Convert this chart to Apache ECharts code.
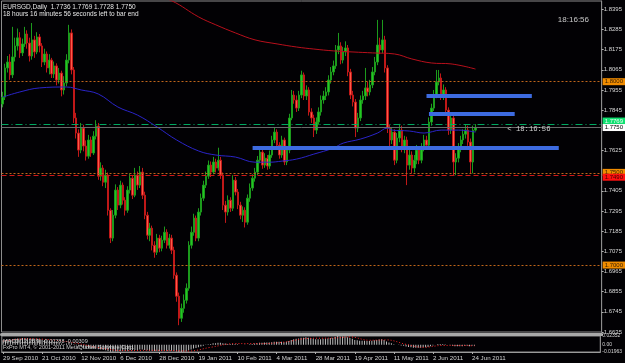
<!DOCTYPE html>
<html><head><meta charset="utf-8">
<script src="https://cdn.jsdelivr.net/npm/echarts@6/dist/echarts.min.js"></script>
<style>html,body{margin:0;padding:0;background:#000;}#c{width:625px;height:363px;}</style>
</head><body><div id="c"></div>
<script>
// ---- DATA ----
const tickLabels = ['29 Sep 2010','21 Oct 2010','12 Nov 2010','6 Dec 2010','28 Dec 2010','19 Jan 2011','10 Feb 2011','4 Mar 2011','28 Mar 2011','19 Apr 2011','11 May 2011','2 Jun 2011','24 Jun 2011'];
const priceTicks = [1.8395,1.8285,1.8175,1.8065,1.7955,1.7845,1.7625,1.7405,1.7295,1.7185,1.7075,1.6965,1.6855,1.6745,1.6635];
const opens = [
1.7878,1.7916,1.8075,1.8107,1.8037,1.8135,1.8195,1.8239,1.8157,1.8206,
1.8260,1.8211,1.8140,1.8228,1.8162,1.8244,1.8195,1.8107,1.8151,1.8075,
1.8118,1.8042,1.8086,1.8009,1.8047,1.7955,1.7993,1.8118,1.8266,1.8064,
1.7802,1.7720,1.7627,1.7747,1.7649,1.7594,1.7682,1.7611,1.7703,1.7758,
1.7485,1.7529,1.7452,1.7491,1.7299,1.7147,1.7272,1.7409,1.7327,1.7436,
1.7354,1.7299,1.7409,1.7474,1.7381,1.7491,1.7436,1.7507,1.7381,1.7272,
1.7163,1.7201,1.7108,1.7070,1.7147,1.7092,1.7136,1.7179,1.7108,1.7147,
1.7081,1.6945,1.6830,1.6710,1.6764,1.6808,1.6874,1.7108,1.7179,1.7256,
1.7147,1.7289,1.7365,1.7436,1.7485,1.7545,1.7507,1.7562,1.7529,1.7572,
1.7491,1.7327,1.7289,1.7354,1.7310,1.7463,1.7398,1.7327,1.7272,1.7299,
1.7234,1.7365,1.7420,1.7474,1.7507,1.7572,1.7616,1.7545,1.7583,1.7540,
1.7600,1.7682,1.7725,1.7654,1.7600,1.7682,1.7562,1.7627,1.7802,1.7927,
1.7900,1.7856,1.7927,1.8037,1.7922,1.7955,1.7835,1.7802,1.7736,1.7780,
1.7835,1.7900,1.7922,1.7944,1.8009,1.8053,1.8086,1.8173,1.8195,1.8118,
1.8162,1.8184,1.8053,1.7927,1.7889,1.7747,1.7802,1.7900,1.7922,1.7966,
1.7944,1.7982,1.8053,1.8107,1.8200,1.8173,1.8228,1.8075,1.7747,1.7682,
1.7725,1.7572,1.7693,1.7736,1.7638,1.7682,1.7545,1.7600,1.7529,1.7572,
1.7627,1.7572,1.7638,1.7682,1.7654,1.7780,1.7856,1.7927,1.7998,1.8020,
1.7922,1.7955,1.7845,1.7736,1.7802,1.7562,1.7583,1.7638,1.7682,1.7714,
1.7736,1.7671,1.7562,1.7736];
const closes = [
1.7916,1.8075,1.8107,1.8037,1.8135,1.8195,1.8239,1.8157,1.8206,1.8260,
1.8211,1.8140,1.8228,1.8162,1.8244,1.8195,1.8107,1.8151,1.8075,1.8118,
1.8042,1.8086,1.8009,1.8047,1.7955,1.7993,1.8118,1.8266,1.8064,1.7802,
1.7720,1.7627,1.7747,1.7649,1.7594,1.7682,1.7611,1.7703,1.7758,1.7485,
1.7529,1.7452,1.7491,1.7299,1.7147,1.7272,1.7409,1.7327,1.7436,1.7354,
1.7299,1.7409,1.7474,1.7381,1.7491,1.7436,1.7507,1.7381,1.7272,1.7163,
1.7201,1.7108,1.7070,1.7147,1.7092,1.7136,1.7179,1.7108,1.7147,1.7081,
1.6945,1.6830,1.6710,1.6764,1.6808,1.6874,1.7108,1.7179,1.7256,1.7147,
1.7289,1.7365,1.7436,1.7485,1.7545,1.7507,1.7562,1.7529,1.7572,1.7491,
1.7327,1.7289,1.7354,1.7310,1.7463,1.7398,1.7327,1.7272,1.7299,1.7234,
1.7365,1.7420,1.7474,1.7507,1.7572,1.7616,1.7545,1.7583,1.7540,1.7600,
1.7682,1.7725,1.7654,1.7600,1.7682,1.7562,1.7627,1.7802,1.7927,1.7900,
1.7856,1.7927,1.8037,1.7922,1.7955,1.7835,1.7802,1.7736,1.7780,1.7835,
1.7900,1.7922,1.7944,1.8009,1.8053,1.8086,1.8173,1.8195,1.8118,1.8162,
1.8184,1.8053,1.7927,1.7889,1.7747,1.7802,1.7900,1.7922,1.7966,1.7944,
1.7982,1.8053,1.8107,1.8200,1.8173,1.8228,1.8075,1.7747,1.7682,1.7725,
1.7572,1.7693,1.7736,1.7638,1.7682,1.7545,1.7600,1.7529,1.7572,1.7627,
1.7572,1.7638,1.7682,1.7654,1.7780,1.7856,1.7927,1.7998,1.8020,1.7922,
1.7955,1.7845,1.7736,1.7802,1.7562,1.7583,1.7638,1.7682,1.7714,1.7736,
1.7671,1.7562,1.7736,1.7750];
const highs = [
1.7945,1.8098,1.8140,1.8150,1.8299,1.8240,1.8290,1.8270,1.8235,1.8299,
1.8280,1.8240,1.8320,1.8250,1.8270,1.8260,1.8210,1.8180,1.8165,1.8150,
1.8130,1.8110,1.8100,1.8075,1.8060,1.8030,1.8150,1.8310,1.8285,1.8080,
1.7830,1.7740,1.7775,1.7765,1.7680,1.7710,1.7700,1.7730,1.7790,1.7775,
1.7560,1.7545,1.7520,1.7505,1.7310,1.7300,1.7440,1.7425,1.7460,1.7450,
1.7370,1.7430,1.7500,1.7490,1.7530,1.7510,1.7540,1.7530,1.7400,1.7290,
1.7230,1.7215,1.7130,1.7170,1.7165,1.7160,1.7210,1.7195,1.7170,1.7165,
1.7100,1.6960,1.6850,1.6790,1.6840,1.6900,1.7130,1.7210,1.7280,1.7270,
1.7310,1.7390,1.7460,1.7510,1.7570,1.7565,1.7590,1.7580,1.7640,1.7590,
1.7505,1.7350,1.7380,1.7370,1.7490,1.7480,1.7415,1.7345,1.7320,1.7315,
1.7385,1.7445,1.7495,1.7530,1.7595,1.7640,1.7630,1.7610,1.7600,1.7625,
1.7705,1.7750,1.7740,1.7670,1.7705,1.7695,1.7650,1.7825,1.7955,1.7950,
1.7925,1.7950,1.8060,1.8050,1.7980,1.7970,1.7855,1.7820,1.7805,1.7860,
1.7925,1.7950,1.7970,1.8035,1.8080,1.8115,1.8200,1.8266,1.8215,1.8190,
1.8220,1.8200,1.8070,1.7950,1.7905,1.7830,1.7925,1.7950,1.8075,1.8000,
1.8010,1.8080,1.8135,1.8337,1.8240,1.8337,1.8250,1.8090,1.7765,1.7750,
1.7740,1.7720,1.7770,1.7760,1.7705,1.7700,1.7630,1.7620,1.7600,1.7655,
1.7645,1.7665,1.7710,1.7705,1.7805,1.7880,1.7955,1.8064,1.8064,1.8045,
1.7985,1.7970,1.7860,1.7825,1.7820,1.7610,1.7665,1.7705,1.7740,1.7765,
1.7760,1.7690,1.7760,1.7769];
const lows = [
1.7860,1.7900,1.8050,1.8010,1.8020,1.8110,1.8170,1.8130,1.8140,1.8190,
1.8180,1.8110,1.8120,1.8130,1.8150,1.8160,1.8080,1.8090,1.8050,1.8040,
1.8020,1.8020,1.7980,1.7990,1.7920,1.7930,1.7975,1.8100,1.8040,1.7775,
1.7690,1.7590,1.7610,1.7620,1.7570,1.7580,1.7590,1.7600,1.7685,1.7465,
1.7460,1.7430,1.7420,1.7270,1.7120,1.7130,1.7255,1.7300,1.7310,1.7330,
1.7270,1.7285,1.7390,1.7360,1.7370,1.7410,1.7420,1.7360,1.7250,1.7140,
1.7130,1.7080,1.7040,1.7055,1.7070,1.7075,1.7120,1.7090,1.7090,1.7060,
1.6925,1.6800,1.6672,1.6690,1.6740,1.6790,1.6860,1.7090,1.7160,1.7130,
1.7130,1.7270,1.7350,1.7420,1.7470,1.7480,1.7495,1.7505,1.7515,1.7470,
1.7300,1.7230,1.7270,1.7290,1.7295,1.7380,1.7305,1.7250,1.7235,1.7205,
1.7220,1.7345,1.7405,1.7455,1.7490,1.7555,1.7525,1.7530,1.7520,1.7525,
1.7585,1.7665,1.7635,1.7580,1.7585,1.7545,1.7545,1.7610,1.7790,1.7880,
1.7835,1.7840,1.7910,1.7900,1.7900,1.7815,1.7775,1.7698,1.7715,1.7765,
1.7815,1.7880,1.7900,1.7925,1.7990,1.8035,1.8070,1.8150,1.8095,1.8100,
1.8140,1.8030,1.7905,1.7865,1.7698,1.7725,1.7785,1.7880,1.7900,1.7920,
1.7925,1.7965,1.8035,1.8090,1.8150,1.8155,1.8050,1.7720,1.7640,1.7660,
1.7545,1.7555,1.7670,1.7615,1.7610,1.7436,1.7520,1.7500,1.7505,1.7550,
1.7550,1.7555,1.7620,1.7630,1.7640,1.7760,1.7840,1.7910,1.7980,1.7900,
1.7900,1.7825,1.7710,1.7715,1.7490,1.7490,1.7560,1.7615,1.7660,1.7690,
1.7650,1.7500,1.7500,1.7728];
// moving averages read at sample bars: [barIndex, value]
const maBlue = [[0,1.7916],[7,1.7944],[15,1.7966],[26,1.7971],[32,1.7955],[39,1.7933],[47,1.7862],[55,1.7818],[63,1.7753],[71,1.7682],[80,1.7622],[87,1.7600],[95,1.7589],[103,1.7561],[109,1.7561],[114,1.7567],[120,1.7578],[127,1.7605],[135,1.7638],[139,1.7665],[146,1.7687],[153,1.7720],[157,1.7747],[159,1.7736],[166,1.7731],[172,1.7720],[179,1.7736],[186,1.7736],[193,1.7725]];
const maRed = [[60,1.8479],[69,1.8441],[80,1.8353],[87,1.8310],[95,1.8266],[103,1.8228],[112,1.8206],[120,1.8189],[127,1.8178],[135,1.8168],[143,1.8162],[151,1.8157],[160,1.8151],[167,1.8124],[175,1.8102],[183,1.8097],[193,1.8069]];
// user-drawn levels: [fromBar, toBar, price]
const trendLevels = [[173,216,1.7923],[174,209,1.7827],[102,227,1.7640]];
// horizontal price lines
const roundLevels = [1.8000,1.7500,1.7000];
const bidPrice = 1.7750, askPrice = 1.7769, lowLevel = 1.7490;
// MACD(12,26,9)
const macd = [
0.012,0.013,0.014,0.014,0.015,0.016,0.017,0.017,0.018,0.018,
0.018,0.017,0.017,0.016,0.016,0.015,0.014,0.013,0.012,0.011,
0.009,0.008,0.007,0.005,0.003,0.002,0.003,0.005,0.004,0.001,
-0.002,-0.005,-0.006,-0.008,-0.010,-0.010,-0.011,-0.011,-0.010,-0.012,
-0.013,-0.014,-0.015,-0.017,-0.019,-0.019,-0.018,-0.018,-0.017,-0.017,
-0.017,-0.016,-0.015,-0.015,-0.014,-0.014,-0.013,-0.013,-0.014,-0.015,
-0.016,-0.017,-0.017,-0.017,-0.017,-0.017,-0.016,-0.016,-0.016,-0.016,
-0.017,-0.018,-0.0196,-0.0196,-0.019,-0.018,-0.015,-0.013,-0.010,-0.009,
-0.007,-0.005,-0.003,-0.001,0.001,0.002,0.004,0.004,0.005,0.005,
0.004,0.003,0.002,0.002,0.002,0.002,0.001,0.000,0.000,-0.001,
0.000,0.001,0.002,0.003,0.004,0.005,0.005,0.006,0.006,0.006,
0.007,0.008,0.008,0.008,0.008,0.007,0.008,0.010,0.013,0.015,
0.016,0.017,0.019,0.019,0.020,0.019,0.018,0.016,0.015,0.015,
0.015,0.016,0.016,0.017,0.018,0.019,0.021,0.0235,0.022,0.022,
0.022,0.020,0.018,0.016,0.013,0.012,0.011,0.011,0.011,0.010,
0.010,0.011,0.012,0.013,0.014,0.015,0.013,0.009,0.006,0.004,
0.001,0.000,-0.001,-0.002,-0.003,-0.005,-0.006,-0.007,-0.008,-0.008,
-0.008,-0.008,-0.007,-0.007,-0.006,-0.004,-0.002,0.000,0.002,0.002,
0.002,0.001,0.000,-0.001,-0.003,-0.004,-0.004,-0.004,-0.004,-0.003,
-0.003,-0.004,-0.003,-0.00288];
const macdSignal = [[0,0.010],[10,0.016],[20,0.013],[30,0.004],[40,-0.009],[50,-0.016],[60,-0.015],[70,-0.016],[76,-0.017],[85,-0.007],[95,0.003],[105,0.003],[115,0.007],[125,0.017],[135,0.018],[142,0.021],[150,0.012],[157,0.013],[165,0.001],[172,-0.007],[180,-0.002],[187,-0.002],[193,-0.00309]];
const macdTicks = [0.02352, 0, -0.01963];

// ---- BUILD ----
const TOTAL = 245;
const cats = Array.from({length: TOTAL}, (_, i) => 'b' + i);
const showTick = (i) => i % 16 === 0 && (i / 16) < tickLabels.length;
const ohlc = opens.map((o, i) => [o, closes[i], lows[i], highs[i]]);
const FONT = 'Liberation Sans';

const chart = echarts.init(document.getElementById('c'), null, {renderer: 'canvas'});
const boxLabel = (bg, fg, dy) => ({show: true, position: 'end', distance: 1, formatter: p => Number(p.value).toFixed(4),
  backgroundColor: bg, color: fg, fontSize: 6, fontFamily: FONT, padding: [1, 2, 0, 2], offset: [0, dy || 0]});

const markData = [];
roundLevels.forEach(v => markData.push({yAxis: v, lineStyle: {color: '#c0661a', type: [2, 2], width: 1}, label: boxLabel('#f08c00', '#3a2000', v === 1.75 ? -1 : 0)}));
markData.push({yAxis: lowLevel, lineStyle: {color: '#d01818', type: [5, 3], width: 1}, label: boxLabel('#ff1010', '#400000', 2)});
markData.push({yAxis: askPrice, lineStyle: {color: '#00a860', type: [7, 3, 1, 3], width: 1}, label: boxLabel('#10e070', '#e8fff0', -3)});
markData.push({yAxis: bidPrice, lineStyle: {color: '#6a6a6a', type: 'solid', width: 1}, label: boxLabel('#ffffff', '#000000', 0)});
trendLevels.forEach(t => markData.push([{coord: [t[0], t[2]], lineStyle: {color: '#3d6be0', width: 4, type: 'solid'}}, {coord: [t[1], t[2]]}]));

const tStyle = (size, color) => ({color: color, fontSize: size, fontWeight: 'normal', fontFamily: FONT, lineHeight: size + 1});
chart.setOption({
  backgroundColor: '#020104',
  animation: false,
  title: [
    {text: 'EURSGD,Daily  1.7736 1.7769 1.7728 1.7750', left: 3, top: 3, padding: 0, textStyle: tStyle(6.5, '#e6e6e6'),
     subtext: '18 hours 16 minutes 56 seconds left to bar end', itemGap: 0, subtextStyle: tStyle(6.5, '#e6e6e6')},
    {text: '18:16:56', right: 36, top: 15, padding: 0, textStyle: tStyle(8, '#c8c8c8')},
    {text: 'MACD(12,26,9) -0.00288 -0.00309', left: 3, top: 338, padding: 0, textStyle: tStyle(5.5, '#d0d0d0'),
     subtext: 'FxPro MT4, \u00a9 2001-2011 MetaQuotes Software Corp.', itemGap: 0, subtextStyle: tStyle(5.5, '#d0d0d0')}
  ],
  grid: [
    {left: 1.5, right: 23, top: 1, height: 331, show: true, borderColor: '#8c8c8c', borderWidth: 1, backgroundColor: 'transparent'},
    {left: 1.5, right: 23, top: 336, height: 16, show: true, borderColor: '#8c8c8c', borderWidth: 1, backgroundColor: 'transparent'}
  ],
  xAxis: [
    {type: 'category', gridIndex: 0, data: cats, boundaryGap: true,
     axisLine: {show: true, onZero: false, lineStyle: {color: '#a8a8a8', width: 3}}, offset: 2,
     axisTick: {show: false}, axisLabel: {show: false}, splitLine: {show: false}},
    {type: 'category', gridIndex: 1, data: cats, boundaryGap: true,
     axisLine: {show: true, onZero: false, lineStyle: {color: '#9a9a9a', width: 1}},
     axisTick: {show: true, alignWithLabel: true, interval: (i) => showTick(i), length: 2, lineStyle: {color: '#b0b0b0'}},
     axisLabel: {show: true, interval: (i) => showTick(i), formatter: (v, i) => tickLabels[i / 16], align: 'left', margin: 3,
       color: '#d2d2d2', fontSize: 6.2, fontFamily: FONT}, splitLine: {show: false}}
  ],
  yAxis: [
    {type: 'value', gridIndex: 0, position: 'right', min: 1.6635, max: 1.8440, scale: true,
     axisLine: {show: true, lineStyle: {color: '#8c8c8c'}},
     axisTick: {show: true, length: 2, customValues: priceTicks, lineStyle: {color: '#b0b0b0'}},
     axisLabel: {show: true, customValues: priceTicks, formatter: v => v.toFixed(4), margin: 2, color: '#d8d8d8', fontSize: 6, fontFamily: FONT},
     splitLine: {show: false}},
    {type: 'value', gridIndex: 1, position: 'right', min: -0.01963, max: 0.02352,
     axisLine: {show: true, lineStyle: {color: '#8c8c8c'}},
     axisTick: {show: false},
     axisLabel: {show: true, customValues: macdTicks, formatter: v => v === 0 ? '0.00' : v.toFixed(5), margin: 2, color: '#d8d8d8', fontSize: 5, fontFamily: FONT},
     splitLine: {show: false}}
  ],
  series: [
    {type: 'candlestick', name: 'EURSGD', xAxisIndex: 0, yAxisIndex: 0, data: ohlc, barWidth: 2,
     itemStyle: {color: '#22c822', color0: '#ff5a48', borderColor: '#1c9a1c', borderColor0: '#c01818', borderWidth: 1},
     markLine: {silent: true, symbol: 'none', precision: 4, animation: false, data: markData},
     markPoint: {silent: true, symbol: 'circle', symbolSize: 0, data: [{coord: [206, bidPrice], label: {show: true, position: 'right', distance: 0, formatter: '< 18:16:56', color: '#cfcfcf', fontSize: 7.2, fontFamily: 'Liberation Mono', offset: [0, 1.5]}}]}},
    {type: 'line', name: 'MA slow', data: maRed, smooth: 0.4, symbol: 'none', clip: true, lineStyle: {color: '#b8101c', width: 1}},
    {type: 'line', name: 'MA fast', data: maBlue, smooth: 0.4, symbol: 'none', clip: true, lineStyle: {color: '#2a24c8', width: 1}},
    {type: 'bar', name: 'MACD', xAxisIndex: 1, yAxisIndex: 1, data: macd, barWidth: 1, itemStyle: {color: '#bdbdbd'}},
    {type: 'line', name: 'Signal', xAxisIndex: 1, yAxisIndex: 1, data: macdSignal, smooth: 0.4, symbol: 'none', lineStyle: {color: '#ff2a2a', width: 1, type: [1, 2]}}
  ]
});
</script></body></html>
